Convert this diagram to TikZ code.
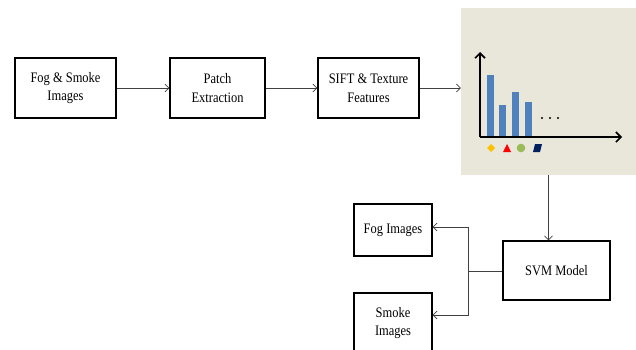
\documentclass[tikz,border=0pt]{standalone}
\usepackage{fontspec}
\setmainfont{Liberation Serif}[FakeStretch=0.86]
\usepackage{xcolor}
\usetikzlibrary{arrows.meta}

\definecolor{panelbg}{RGB}{233,230,218}
\definecolor{barblue}{RGB}{79,129,189}
\definecolor{mkgold}{RGB}{255,192,0}
\definecolor{mkgreen}{RGB}{155,187,89}
\definecolor{mknavy}{RGB}{0,32,96}

\begin{document}
\begin{tikzpicture}[x=1pt,y=-1pt,
  font=\fontsize{14.5}{18.5}\selectfont,
  stage/.style={draw,line width=1.4pt,align=center,inner sep=0pt},
  flow/.style={draw=black!75,line width=0.6pt,-{Straight Barb[length=4pt,width=8pt]}},
  axis/.style={line width=1.6pt,-{Straight Barb[length=5pt,width=10pt]}}]
  \clip (0,0) rectangle (636,349);
  \useasboundingbox (0,0) rectangle (636,349);
  % pipeline
  \node[stage,minimum width=101pt,minimum height=60pt] (fogsmoke) at (65.5,88) {Fog \& Smoke\\Images};
  \node[stage,minimum width=95pt,minimum height=60pt] (patch) at (217.5,88) {Patch\\Extraction};
  \node[stage,minimum width=101pt,minimum height=60pt] (sift) at (368.5,88) {SIFT \& Texture\\Features};
  \node[fill=panelbg,minimum width=175pt,minimum height=167pt,inner sep=0pt] (hist) at (548.5,91.5) {};
  \node[stage,minimum width=107pt,minimum height=59pt] (svm) at (556.5,270.5) {SVM Model};
  \node[stage,minimum width=78pt,minimum height=52pt] (fog) at (393,230) {Fog Images};
  \node[stage,minimum width=78pt,minimum height=60pt] (smoke) at (393,323) {Smoke\\Images};
  % histogram
  \foreach \xa/\top in {487/75,499/105,512/92,525/102}
    \fill[barblue] (\xa,137) rectangle (\xa+7,\top);
  \draw[axis] (480,137) -- (480,52);
  \draw[axis] (480,137) -- (622,137);
  \foreach \xd in {542,550,558}
    \fill (\xd,118) circle (1.1);
  \fill[mkgold] (491,144) -- (495,148) -- (491,152) -- (487,148) -- cycle;
  \fill[red] (503,152) -- (507,144) -- (511,152) -- cycle;
  \fill[mkgreen] (521,148) circle (4.3);
  \fill[mknavy] (535,144) -- (542,144) -- (540,152) -- (533,152) -- cycle;
  % connectors
  \draw[flow] (fogsmoke.east) -- (patch.west);
  \draw[flow] (patch.east) -- (sift.west);
  \draw[flow] (sift.east) -- (sift.east -| hist.west);
  \draw[flow] (hist.south) -- (hist.south |- svm.north);
  \coordinate (split) at (468,271);
  \draw[draw=black!75,line width=0.6pt] (svm.west |- split) -- (split);
  \draw[flow] (split) |- ([yshift=3pt]fog.east);
  \draw[flow] (split) |- ([yshift=8pt]smoke.east);
\end{tikzpicture}
\end{document}
